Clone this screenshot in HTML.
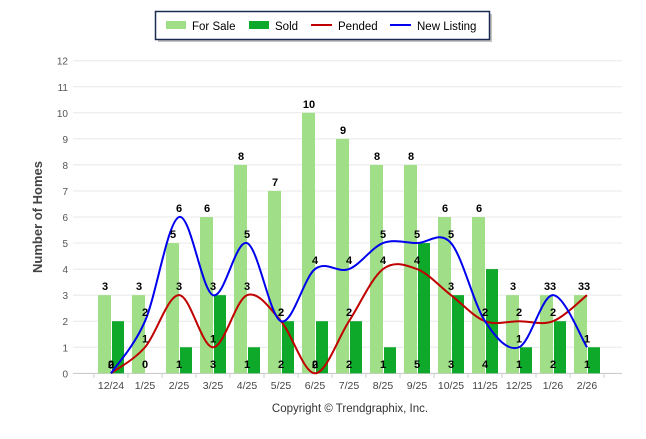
<!DOCTYPE html>
<html><head><meta charset="utf-8"><style>
body{margin:0;background:#fff;}
svg text{font-family:"Liberation Sans",Arial,sans-serif;}
</style></head><body>
<svg id="s" width="646" height="434" xmlns="http://www.w3.org/2000/svg"></svg>
<script>
const s=document.getElementById('s');
const fs=[3,3,5,6,8,7,10,9,8,8,6,6,3,3,3];
const sd=[2,0,1,3,1,2,2,2,1,5,3,4,1,2,1];
const pd=[0,1,3,1,3,2,0,2,4,4,3,2,2,2,3];
const nl=[0,2,6,3,5,2,4,4,5,5,5,2,1,3,1];
const lab=['12/24','1/25','2/25','3/25','4/25','5/25','6/25','7/25','8/25','9/25','10/25','11/25','12/25','1/26','2/26'];
const Y=v=>373.3-v*26.05, X=i=>111+34*i;
let h='';
for(let v=0;v<=12;v++){h+=`<line x1="73" x2="622" y1="${Y(v)}" y2="${Y(v)}" stroke="#e8e8e8"/>`;
h+=`<text x="68" y="${Y(v)+4}" font-size="10" fill="#555" text-anchor="end">${v}</text>`;}
h+=`<line x1="73" x2="622" y1="373.5" y2="373.5" stroke="#ccc"/>`;
for(let i=0;i<=15;i++){const x=94+34*i;h+=`<line x1="${x}" x2="${x}" y1="373" y2="378" stroke="#ccc"/>`;}
for(let i=0;i<15;i++){const c=X(i);
h+=`<rect x="${c-13}" y="${Y(fs[i])}" width="13" height="${fs[i]*26.05}" fill="#a0df88"/>`;
h+=`<rect x="${c+1}" y="${Y(sd[i])}" width="12" height="${sd[i]*26.05}" fill="#0ea82a"/>`;
h+=`<text x="${c}" y="389" font-size="10.5" fill="#444" text-anchor="middle">${lab[i]}</text>`;}
function path(d){let p=`M${X(0)},${Y(d[0])}`;const P=d.map((v,i)=>[X(i),Y(v)]);
for(let i=0;i<P.length-1;i++){const p0=P[Math.max(i-1,0)],p1=P[i],p2=P[i+1],p3=P[Math.min(i+2,P.length-1)];
const c1=[p1[0]+(p2[0]-p0[0])/6,p1[1]+(p2[1]-p0[1])/6],c2=[p2[0]-(p3[0]-p1[0])/6,p2[1]-(p3[1]-p1[1])/6];
p+=` C${c1[0]},${c1[1]} ${c2[0]},${c2[1]} ${p2[0]},${p2[1]}`;}return p;}
h+=`<path d="${path(pd)}" fill="none" stroke="#c00000" stroke-width="2"/>`;
h+=`<path d="${path(nl)}" fill="none" stroke="#0000ee" stroke-width="2"/>`;
const T=(x,y,t)=>`<text x="${x}" y="${y}" font-size="11" font-weight="bold" fill="#000" text-anchor="middle">${t}</text>`;
for(let i=0;i<15;i++){const c=X(i);
h+=T(c-6,Y(fs[i])-5,fs[i]);
h+=T(c,368,sd[i]);
h+=T(c,Y(pd[i])-5,pd[i]);
h+=T(c,Y(nl[i])-5,nl[i]);}
h+=`<text transform="translate(42,217) rotate(-90)" font-size="13" font-weight="bold" fill="#444" text-anchor="middle">Number of Homes</text>`;
h+=`<text x="350" y="412" font-size="11.5" fill="#333" text-anchor="middle">Copyright © Trendgraphix, Inc.</text>`;
h+=`<rect x="158" y="14" width="334" height="28" fill="#888" opacity="0.5"/>`;
h+=`<rect x="155.5" y="11.5" width="334" height="28" fill="#fff" stroke="#1a2a50" stroke-width="1.5"/>`;
h+=`<rect x="166" y="21" width="20" height="8" fill="#a0df88"/><text x="192" y="30" font-size="11.5">For Sale</text>`;
h+=`<rect x="249" y="21" width="20" height="8" fill="#0ea82a"/><text x="275" y="30" font-size="11.5">Sold</text>`;
h+=`<line x1="311" x2="332" y1="25" y2="25" stroke="#c00000" stroke-width="2"/><text x="338" y="30" font-size="11.5">Pended</text>`;
h+=`<line x1="390" x2="411" y1="25" y2="25" stroke="#0000ee" stroke-width="2"/><text x="417" y="30" font-size="11.5">New Listing</text>`;
s.innerHTML=h;
</script>
</body></html>
